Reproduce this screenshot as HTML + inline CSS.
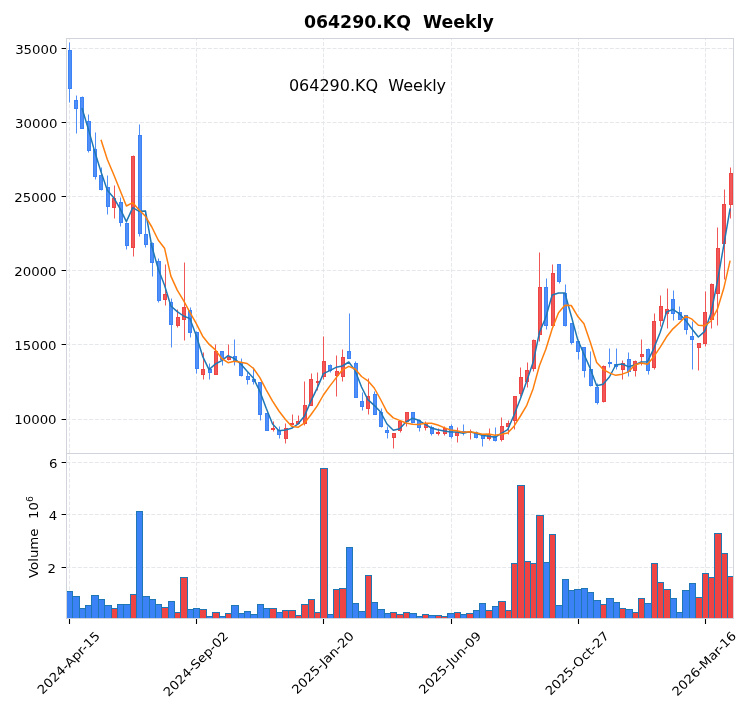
<!DOCTYPE html>
<html><head><meta charset="utf-8"><title>064290.KQ Weekly</title>
<style>html,body{margin:0;padding:0;background:#fff;overflow:hidden}svg{display:block}</style>
</head><body>
<svg width="753" height="712" viewBox="0 0 753 712">
<defs>
<clipPath id="cm"><rect x="66.5" y="38.5" width="667.0" height="415.0"/></clipPath>
<clipPath id="cv"><rect x="66.5" y="453.5" width="667.0" height="164.5"/></clipPath>
</defs>
<rect width="753" height="712" fill="#fff"/>
<path d="M69.5 453.5V38.5M69.5 618.5V453.5M196.5 453.5V38.5M196.5 618.5V453.5M323.5 453.5V38.5M323.5 618.5V453.5M451.5 453.5V38.5M451.5 618.5V453.5M578.5 453.5V38.5M578.5 618.5V453.5M705.5 453.5V38.5M705.5 618.5V453.5M66.5 419.5H733.5M66.5 344.5H733.5M66.5 270.5H733.5M66.5 196.5H733.5M66.5 122.5H733.5M66.5 48.5H733.5M66.5 462.5H733.5M66.5 514.5H733.5M66.5 567.5H733.5" stroke="#e5e7eb" stroke-width="1" stroke-dasharray="3.95 1.71" fill="none"/>
<g clip-path="url(#cm)">
<path d="M69.5 42.5V102.5M76.5 95.5V133.5M82.5 96.5V128.5M88.5 114.5V152.5M95.5 132.5V179.5M101.5 167.5V190.5M107.5 175.5V214.5M120.5 197.5V226.5M126.5 222.5V249.5M139.5 124.5V236.5M145.5 210.5V247.5M152.5 242.5V276.5M158.5 258.5V302.5M171.5 298.5V347.5M190.5 307.5V337.5M196.5 331.5V373.5M209.5 363.5V379.5M222.5 351.5V365.5M234.5 339.5V365.5M241.5 358.5V376.5M247.5 372.5V384.5M253.5 367.5V384.5M260.5 382.5V420.5M266.5 413.5V430.5M279.5 426.5V438.5M330.5 364.5V372.5M349.5 313.5V358.5M355.5 361.5V397.5M362.5 392.5V410.5M374.5 391.5V414.5M381.5 408.5V427.5M387.5 426.5V438.5M412.5 412.5V423.5M419.5 419.5V431.5M431.5 425.5V435.5M451.5 424.5V438.5M463.5 424.5V435.5M476.5 431.5V438.5M482.5 435.5V446.5M495.5 427.5V441.5M546.5 278.5V329.5M559.5 264.5V283.5M565.5 284.5V326.5M571.5 323.5V344.5M578.5 341.5V359.5M584.5 347.5V377.5M590.5 351.5V386.5M597.5 383.5V404.5M609.5 348.5V367.5M616.5 348.5V369.5M628.5 352.5V376.5M648.5 348.5V374.5M673.5 290.5V320.5M679.5 306.5V319.5M686.5 315.5V334.5M692.5 321.5V369.5" stroke="#4f8ff7" stroke-width="1" fill="none"/>
<path d="M114.5 185.5V218.5M133.5 155.5V256.5M165.5 264.5V305.5M177.5 309.5V327.5M184.5 262.5V340.5M203.5 352.5V379.5M215.5 344.5V374.5M228.5 344.5V360.5M273.5 421.5V431.5M285.5 423.5V443.5M292.5 414.5V425.5M298.5 415.5V424.5M304.5 381.5V425.5M311.5 373.5V405.5M317.5 372.5V390.5M323.5 336.5V379.5M336.5 355.5V396.5M342.5 349.5V381.5M368.5 378.5V414.5M393.5 433.5V448.5M400.5 420.5V432.5M406.5 412.5V426.5M425.5 421.5V430.5M438.5 428.5V435.5M444.5 426.5V435.5M457.5 427.5V442.5M470.5 429.5V439.5M489.5 428.5V440.5M501.5 417.5V441.5M508.5 420.5V434.5M514.5 396.5V429.5M520.5 367.5V396.5M527.5 362.5V387.5M533.5 339.5V371.5M539.5 252.5V341.5M552.5 264.5V325.5M603.5 365.5V402.5M622.5 360.5V379.5M635.5 360.5V376.5M641.5 339.5V365.5M654.5 313.5V369.5M660.5 295.5V326.5M667.5 288.5V328.5M698.5 343.5V370.5M705.5 291.5V346.5M711.5 283.5V328.5M717.5 227.5V325.5M724.5 189.5V279.5M730.5 167.5V218.5" stroke="#f15757" stroke-width="1" fill="none"/>
<rect x="68.5" y="50.5" width="3.0" height="38.00" fill="#4f8ff7" stroke="#3b82f6" stroke-width="1"/>
<rect x="74.5" y="100.5" width="3.0" height="8.00" fill="#4f8ff7" stroke="#3b82f6" stroke-width="1"/>
<rect x="80.5" y="97.5" width="3.0" height="31.00" fill="#4f8ff7" stroke="#3b82f6" stroke-width="1"/>
<rect x="87.5" y="121.5" width="3.0" height="29.00" fill="#4f8ff7" stroke="#3b82f6" stroke-width="1"/>
<rect x="93.5" y="149.5" width="3.0" height="27.00" fill="#4f8ff7" stroke="#3b82f6" stroke-width="1"/>
<rect x="99.5" y="175.5" width="3.0" height="14.00" fill="#4f8ff7" stroke="#3b82f6" stroke-width="1"/>
<rect x="106.5" y="187.5" width="3.0" height="19.00" fill="#4f8ff7" stroke="#3b82f6" stroke-width="1"/>
<rect x="112.5" y="198.5" width="3.0" height="9.00" fill="#f15757" stroke="#ef4444" stroke-width="1"/>
<rect x="119.5" y="202.5" width="3.0" height="20.00" fill="#4f8ff7" stroke="#3b82f6" stroke-width="1"/>
<rect x="125.5" y="223.5" width="3.0" height="22.00" fill="#4f8ff7" stroke="#3b82f6" stroke-width="1"/>
<rect x="131.5" y="156.5" width="3.0" height="91.00" fill="#f15757" stroke="#ef4444" stroke-width="1"/>
<rect x="138.5" y="135.5" width="3.0" height="98.00" fill="#4f8ff7" stroke="#3b82f6" stroke-width="1"/>
<rect x="144.5" y="234.5" width="3.0" height="10.00" fill="#4f8ff7" stroke="#3b82f6" stroke-width="1"/>
<rect x="150.5" y="243.5" width="3.0" height="19.00" fill="#4f8ff7" stroke="#3b82f6" stroke-width="1"/>
<rect x="157.5" y="261.5" width="3.0" height="39.00" fill="#4f8ff7" stroke="#3b82f6" stroke-width="1"/>
<rect x="163.5" y="294.5" width="3.0" height="5.00" fill="#f15757" stroke="#ef4444" stroke-width="1"/>
<rect x="169.5" y="302.5" width="3.0" height="22.00" fill="#4f8ff7" stroke="#3b82f6" stroke-width="1"/>
<rect x="176.5" y="317.5" width="3.0" height="8.00" fill="#f15757" stroke="#ef4444" stroke-width="1"/>
<rect x="182.5" y="307.5" width="3.0" height="12.00" fill="#f15757" stroke="#ef4444" stroke-width="1"/>
<rect x="188.5" y="310.5" width="3.0" height="22.00" fill="#4f8ff7" stroke="#3b82f6" stroke-width="1"/>
<rect x="195.5" y="332.5" width="3.0" height="36.00" fill="#4f8ff7" stroke="#3b82f6" stroke-width="1"/>
<rect x="201.5" y="369.5" width="3.0" height="5.00" fill="#f15757" stroke="#ef4444" stroke-width="1"/>
<rect x="208.5" y="369.5" width="3.0" height="3.00" fill="#4f8ff7" stroke="#3b82f6" stroke-width="1"/>
<rect x="214.5" y="351.5" width="3.0" height="23.00" fill="#f15757" stroke="#ef4444" stroke-width="1"/>
<rect x="220.5" y="351.5" width="3.0" height="8.00" fill="#4f8ff7" stroke="#3b82f6" stroke-width="1"/>
<rect x="227.5" y="357.5" width="3.0" height="2.00" fill="#f15757" stroke="#ef4444" stroke-width="1"/>
<rect x="233.5" y="356.5" width="3.0" height="4.00" fill="#4f8ff7" stroke="#3b82f6" stroke-width="1"/>
<rect x="239.5" y="362.5" width="3.0" height="13.00" fill="#4f8ff7" stroke="#3b82f6" stroke-width="1"/>
<rect x="246.5" y="376.5" width="3.0" height="3.00" fill="#4f8ff7" stroke="#3b82f6" stroke-width="1"/>
<rect x="252.5" y="379.5" width="3.0" height="2.00" fill="#4f8ff7" stroke="#3b82f6" stroke-width="1"/>
<rect x="258.5" y="382.5" width="3.0" height="32.00" fill="#4f8ff7" stroke="#3b82f6" stroke-width="1"/>
<rect x="265.5" y="413.5" width="3.0" height="17.00" fill="#4f8ff7" stroke="#3b82f6" stroke-width="1"/>
<rect x="271.5" y="428.5" width="3.0" height="1.00" fill="#f15757" stroke="#ef4444" stroke-width="1"/>
<rect x="277.5" y="430.5" width="3.0" height="4.00" fill="#4f8ff7" stroke="#3b82f6" stroke-width="1"/>
<rect x="284.5" y="428.5" width="3.0" height="10.00" fill="#f15757" stroke="#ef4444" stroke-width="1"/>
<rect x="290.5" y="423.5" width="3.0" height="1.00" fill="#f15757" stroke="#ef4444" stroke-width="1"/>
<rect x="296.5" y="421.5" width="3.0" height="2.00" fill="#f15757" stroke="#ef4444" stroke-width="1"/>
<rect x="303.5" y="405.5" width="3.0" height="18.00" fill="#f15757" stroke="#ef4444" stroke-width="1"/>
<rect x="309.5" y="379.5" width="3.0" height="26.00" fill="#f15757" stroke="#ef4444" stroke-width="1"/>
<rect x="316.5" y="381.5" width="3.0" height="1.00" fill="#f15757" stroke="#ef4444" stroke-width="1"/>
<rect x="322.5" y="361.5" width="3.0" height="15.00" fill="#f15757" stroke="#ef4444" stroke-width="1"/>
<rect x="328.5" y="365.5" width="3.0" height="5.00" fill="#4f8ff7" stroke="#3b82f6" stroke-width="1"/>
<rect x="335.5" y="371.5" width="3.0" height="4.00" fill="#f15757" stroke="#ef4444" stroke-width="1"/>
<rect x="341.5" y="357.5" width="3.0" height="19.00" fill="#f15757" stroke="#ef4444" stroke-width="1"/>
<rect x="347.5" y="351.5" width="3.0" height="7.00" fill="#4f8ff7" stroke="#3b82f6" stroke-width="1"/>
<rect x="354.5" y="363.5" width="3.0" height="34.00" fill="#4f8ff7" stroke="#3b82f6" stroke-width="1"/>
<rect x="360.5" y="401.5" width="3.0" height="5.00" fill="#4f8ff7" stroke="#3b82f6" stroke-width="1"/>
<rect x="366.5" y="396.5" width="3.0" height="12.00" fill="#f15757" stroke="#ef4444" stroke-width="1"/>
<rect x="373.5" y="394.5" width="3.0" height="20.00" fill="#4f8ff7" stroke="#3b82f6" stroke-width="1"/>
<rect x="379.5" y="412.5" width="3.0" height="14.00" fill="#4f8ff7" stroke="#3b82f6" stroke-width="1"/>
<rect x="385.5" y="430.5" width="3.0" height="2.00" fill="#4f8ff7" stroke="#3b82f6" stroke-width="1"/>
<rect x="392.5" y="433.5" width="3.0" height="4.00" fill="#f15757" stroke="#ef4444" stroke-width="1"/>
<rect x="398.5" y="421.5" width="3.0" height="9.00" fill="#f15757" stroke="#ef4444" stroke-width="1"/>
<rect x="405.5" y="412.5" width="3.0" height="9.00" fill="#f15757" stroke="#ef4444" stroke-width="1"/>
<rect x="411.5" y="412.5" width="3.0" height="10.00" fill="#4f8ff7" stroke="#3b82f6" stroke-width="1"/>
<rect x="417.5" y="420.5" width="3.0" height="7.00" fill="#4f8ff7" stroke="#3b82f6" stroke-width="1"/>
<rect x="424.5" y="424.5" width="3.0" height="3.00" fill="#f15757" stroke="#ef4444" stroke-width="1"/>
<rect x="430.5" y="427.5" width="3.0" height="6.00" fill="#4f8ff7" stroke="#3b82f6" stroke-width="1"/>
<rect x="436.5" y="432.5" width="3.0" height="1.00" fill="#f15757" stroke="#ef4444" stroke-width="1"/>
<rect x="443.5" y="428.5" width="3.0" height="5.00" fill="#f15757" stroke="#ef4444" stroke-width="1"/>
<rect x="449.5" y="426.5" width="3.0" height="10.00" fill="#4f8ff7" stroke="#3b82f6" stroke-width="1"/>
<rect x="455.5" y="432.5" width="3.0" height="3.00" fill="#f15757" stroke="#ef4444" stroke-width="1"/>
<rect x="462.5" y="431.5" width="3.0" height="1.00" fill="#4f8ff7" stroke="#3b82f6" stroke-width="1"/>
<rect x="468.5" y="431.5" width="3.0" height="1.00" fill="#f15757" stroke="#ef4444" stroke-width="1"/>
<rect x="474.5" y="432.5" width="3.0" height="5.00" fill="#4f8ff7" stroke="#3b82f6" stroke-width="1"/>
<rect x="481.5" y="435.5" width="3.0" height="3.00" fill="#4f8ff7" stroke="#3b82f6" stroke-width="1"/>
<rect x="487.5" y="434.5" width="3.0" height="4.00" fill="#f15757" stroke="#ef4444" stroke-width="1"/>
<rect x="493.5" y="436.5" width="3.0" height="4.00" fill="#4f8ff7" stroke="#3b82f6" stroke-width="1"/>
<rect x="500.5" y="426.5" width="3.0" height="13.00" fill="#f15757" stroke="#ef4444" stroke-width="1"/>
<rect x="506.5" y="423.5" width="3.0" height="3.00" fill="#f15757" stroke="#ef4444" stroke-width="1"/>
<rect x="513.5" y="396.5" width="3.0" height="24.00" fill="#f15757" stroke="#ef4444" stroke-width="1"/>
<rect x="519.5" y="377.5" width="3.0" height="16.00" fill="#f15757" stroke="#ef4444" stroke-width="1"/>
<rect x="525.5" y="370.5" width="3.0" height="11.00" fill="#f15757" stroke="#ef4444" stroke-width="1"/>
<rect x="532.5" y="340.5" width="3.0" height="28.00" fill="#f15757" stroke="#ef4444" stroke-width="1"/>
<rect x="538.5" y="287.5" width="3.0" height="47.00" fill="#f15757" stroke="#ef4444" stroke-width="1"/>
<rect x="544.5" y="287.5" width="3.0" height="38.00" fill="#4f8ff7" stroke="#3b82f6" stroke-width="1"/>
<rect x="551.5" y="273.5" width="3.0" height="52.00" fill="#f15757" stroke="#ef4444" stroke-width="1"/>
<rect x="557.5" y="264.5" width="3.0" height="17.00" fill="#4f8ff7" stroke="#3b82f6" stroke-width="1"/>
<rect x="563.5" y="293.5" width="3.0" height="32.00" fill="#4f8ff7" stroke="#3b82f6" stroke-width="1"/>
<rect x="570.5" y="323.5" width="3.0" height="19.00" fill="#4f8ff7" stroke="#3b82f6" stroke-width="1"/>
<rect x="576.5" y="341.5" width="3.0" height="10.00" fill="#4f8ff7" stroke="#3b82f6" stroke-width="1"/>
<rect x="582.5" y="347.5" width="3.0" height="23.00" fill="#4f8ff7" stroke="#3b82f6" stroke-width="1"/>
<rect x="589.5" y="369.5" width="3.0" height="16.00" fill="#4f8ff7" stroke="#3b82f6" stroke-width="1"/>
<rect x="595.5" y="387.5" width="3.0" height="15.00" fill="#4f8ff7" stroke="#3b82f6" stroke-width="1"/>
<rect x="602.5" y="366.5" width="3.0" height="35.00" fill="#f15757" stroke="#ef4444" stroke-width="1"/>
<rect x="608.5" y="362.5" width="3.0" height="1.00" fill="#4f8ff7" stroke="#3b82f6" stroke-width="1"/>
<rect x="614.5" y="364.5" width="3.0" height="2.00" fill="#4f8ff7" stroke="#3b82f6" stroke-width="1"/>
<rect x="621.5" y="363.5" width="3.0" height="6.00" fill="#f15757" stroke="#ef4444" stroke-width="1"/>
<rect x="627.5" y="359.5" width="3.0" height="12.00" fill="#4f8ff7" stroke="#3b82f6" stroke-width="1"/>
<rect x="633.5" y="361.5" width="3.0" height="9.00" fill="#f15757" stroke="#ef4444" stroke-width="1"/>
<rect x="640.5" y="354.5" width="3.0" height="2.00" fill="#f15757" stroke="#ef4444" stroke-width="1"/>
<rect x="646.5" y="349.5" width="3.0" height="21.00" fill="#4f8ff7" stroke="#3b82f6" stroke-width="1"/>
<rect x="652.5" y="321.5" width="3.0" height="46.00" fill="#f15757" stroke="#ef4444" stroke-width="1"/>
<rect x="659.5" y="306.5" width="3.0" height="14.00" fill="#f15757" stroke="#ef4444" stroke-width="1"/>
<rect x="665.5" y="309.5" width="3.0" height="4.00" fill="#f15757" stroke="#ef4444" stroke-width="1"/>
<rect x="671.5" y="299.5" width="3.0" height="14.00" fill="#4f8ff7" stroke="#3b82f6" stroke-width="1"/>
<rect x="678.5" y="312.5" width="3.0" height="7.00" fill="#4f8ff7" stroke="#3b82f6" stroke-width="1"/>
<rect x="684.5" y="315.5" width="3.0" height="14.00" fill="#4f8ff7" stroke="#3b82f6" stroke-width="1"/>
<rect x="690.5" y="336.5" width="3.0" height="3.00" fill="#4f8ff7" stroke="#3b82f6" stroke-width="1"/>
<rect x="697.5" y="343.5" width="3.0" height="4.00" fill="#f15757" stroke="#ef4444" stroke-width="1"/>
<rect x="703.5" y="312.5" width="3.0" height="31.00" fill="#f15757" stroke="#ef4444" stroke-width="1"/>
<rect x="710.5" y="284.5" width="3.0" height="35.00" fill="#f15757" stroke="#ef4444" stroke-width="1"/>
<rect x="716.5" y="248.5" width="3.0" height="45.00" fill="#f15757" stroke="#ef4444" stroke-width="1"/>
<rect x="722.5" y="204.5" width="3.0" height="39.00" fill="#f15757" stroke="#ef4444" stroke-width="1"/>
<rect x="729.5" y="173.5" width="3.0" height="31.00" fill="#f15757" stroke="#ef4444" stroke-width="1"/>
<polyline points="81.91,108.00 88.27,128.67 94.62,151.33 100.98,171.67 107.33,190.33 113.69,197.67 120.04,208.67 126.40,221.67 132.75,207.67 139.11,211.33 145.46,211.00 151.81,246.33 158.17,268.67 164.53,285.33 170.88,306.00 177.24,311.67 183.59,316.00 189.94,318.67 196.30,335.67 202.66,356.33 209.01,369.67 215.37,364.00 221.72,360.67 228.07,355.67 234.43,358.67 240.79,364.00 247.14,371.33 253.50,378.33 259.85,391.33 266.21,408.33 272.56,424.00 278.92,430.67 285.27,430.00 291.62,428.33 297.98,424.00 304.34,416.33 310.69,401.67 317.05,388.33 323.40,373.67 329.75,370.67 336.11,367.33 342.47,366.00 348.82,362.00 355.18,370.67 361.53,387.00 367.88,399.67 374.24,405.33 380.60,412.00 386.95,424.00 393.31,430.33 399.66,428.67 406.01,422.00 412.37,418.33 418.73,420.33 425.08,424.33 431.44,428.00 437.79,429.67 444.15,431.00 450.50,432.00 456.86,432.00 463.21,433.33 469.56,431.67 475.92,433.33 482.28,435.33 488.63,436.33 494.99,437.33 501.34,433.33 507.69,429.67 514.05,415.00 520.41,398.67 526.76,381.00 533.12,362.33 539.47,332.33 545.83,317.33 552.18,295.00 558.54,293.00 564.89,293.00 571.25,316.00 577.60,339.33 583.96,354.33 590.31,368.67 596.67,385.67 603.02,384.33 609.38,377.00 615.73,365.00 622.09,364.00 628.44,366.67 634.80,365.00 641.15,362.00 647.51,361.67 653.86,348.33 660.22,332.33 666.57,312.00 672.93,309.33 679.28,313.67 685.64,320.33 691.99,329.00 698.35,337.00 704.70,331.33 711.06,313.00 717.41,281.33 723.77,245.33 730.12,208.33" fill="none" stroke="#1f77b4" stroke-width="1.5" stroke-linejoin="round"/>
<polyline points="100.98,139.83 107.33,159.50 113.69,174.50 120.04,190.17 126.40,206.00 132.75,202.67 139.11,210.00 145.46,216.33 151.81,227.00 158.17,240.00 164.53,248.17 170.88,276.17 177.24,290.17 183.59,300.67 189.94,312.33 196.30,323.67 202.66,336.17 209.01,344.17 215.37,349.83 221.72,358.50 228.07,362.67 234.43,361.33 240.79,362.33 247.14,363.50 253.50,368.50 259.85,377.67 266.21,389.83 272.56,401.17 278.92,411.00 285.27,419.17 291.62,426.17 297.98,427.33 304.34,423.17 310.69,415.00 317.05,406.17 323.40,395.00 329.75,386.17 336.11,377.83 342.47,369.83 348.82,366.33 355.18,369.00 361.53,376.50 367.88,380.83 374.24,388.00 380.60,399.50 386.95,411.83 393.31,417.83 399.66,420.33 406.01,423.00 412.37,424.33 418.73,424.50 425.08,423.17 431.44,423.17 437.79,425.00 444.15,427.67 450.50,430.00 456.86,430.83 463.21,432.17 469.56,431.83 475.92,432.67 482.28,434.33 488.63,434.00 494.99,435.33 501.34,434.33 507.69,433.00 514.05,426.17 520.41,416.00 526.76,405.33 533.12,388.67 539.47,365.50 545.83,349.17 552.18,328.67 558.54,312.67 564.89,305.17 571.25,305.50 577.60,316.17 583.96,323.67 590.31,342.33 596.67,362.50 603.02,369.33 609.38,372.83 615.73,375.33 622.09,374.17 628.44,371.83 634.80,365.00 641.15,363.00 647.51,364.17 653.86,356.67 660.22,347.17 666.57,336.83 672.93,328.83 679.28,323.00 685.64,316.17 691.99,319.17 698.35,325.33 704.70,325.83 711.06,321.00 717.41,309.17 723.77,288.33 730.12,260.67" fill="none" stroke="#ff7f0e" stroke-width="1.5" stroke-linejoin="round"/>
</g>
<g clip-path="url(#cv)">
<rect x="66.5" y="591.5" width="6.0" height="29.0" fill="#3b82f6" stroke="#1f77b4" stroke-width="1"/>
<rect x="72.5" y="596.5" width="7.0" height="24.0" fill="#3b82f6" stroke="#1f77b4" stroke-width="1"/>
<rect x="79.5" y="608.5" width="6.0" height="12.0" fill="#3b82f6" stroke="#1f77b4" stroke-width="1"/>
<rect x="85.5" y="605.5" width="6.0" height="15.0" fill="#3b82f6" stroke="#1f77b4" stroke-width="1"/>
<rect x="91.5" y="595.5" width="7.0" height="25.0" fill="#3b82f6" stroke="#1f77b4" stroke-width="1"/>
<rect x="98.5" y="599.5" width="6.0" height="21.0" fill="#3b82f6" stroke="#1f77b4" stroke-width="1"/>
<rect x="104.5" y="605.5" width="7.0" height="15.0" fill="#3b82f6" stroke="#1f77b4" stroke-width="1"/>
<rect x="111.5" y="608.5" width="6.0" height="12.0" fill="#ef4444" stroke="#1f77b4" stroke-width="1"/>
<rect x="117.5" y="604.5" width="6.0" height="16.0" fill="#3b82f6" stroke="#1f77b4" stroke-width="1"/>
<rect x="123.5" y="604.5" width="7.0" height="16.0" fill="#3b82f6" stroke="#1f77b4" stroke-width="1"/>
<rect x="130.5" y="594.5" width="6.0" height="26.0" fill="#ef4444" stroke="#1f77b4" stroke-width="1"/>
<rect x="136.5" y="511.5" width="6.0" height="109.0" fill="#3b82f6" stroke="#1f77b4" stroke-width="1"/>
<rect x="142.5" y="596.5" width="7.0" height="24.0" fill="#3b82f6" stroke="#1f77b4" stroke-width="1"/>
<rect x="149.5" y="599.5" width="6.0" height="21.0" fill="#3b82f6" stroke="#1f77b4" stroke-width="1"/>
<rect x="155.5" y="604.5" width="6.0" height="16.0" fill="#3b82f6" stroke="#1f77b4" stroke-width="1"/>
<rect x="161.5" y="607.5" width="7.0" height="13.0" fill="#ef4444" stroke="#1f77b4" stroke-width="1"/>
<rect x="168.5" y="601.5" width="6.0" height="19.0" fill="#3b82f6" stroke="#1f77b4" stroke-width="1"/>
<rect x="174.5" y="612.5" width="6.0" height="8.0" fill="#ef4444" stroke="#1f77b4" stroke-width="1"/>
<rect x="180.5" y="577.5" width="7.0" height="43.0" fill="#ef4444" stroke="#1f77b4" stroke-width="1"/>
<rect x="187.5" y="609.5" width="6.0" height="11.0" fill="#3b82f6" stroke="#1f77b4" stroke-width="1"/>
<rect x="193.5" y="608.5" width="6.0" height="12.0" fill="#3b82f6" stroke="#1f77b4" stroke-width="1"/>
<rect x="199.5" y="609.5" width="7.0" height="11.0" fill="#ef4444" stroke="#1f77b4" stroke-width="1"/>
<rect x="206.5" y="616.5" width="6.0" height="4.0" fill="#3b82f6" stroke="#1f77b4" stroke-width="1"/>
<rect x="212.5" y="612.5" width="7.0" height="8.0" fill="#ef4444" stroke="#1f77b4" stroke-width="1"/>
<rect x="219.5" y="616.5" width="6.0" height="4.0" fill="#3b82f6" stroke="#1f77b4" stroke-width="1"/>
<rect x="225.5" y="613.5" width="6.0" height="7.0" fill="#ef4444" stroke="#1f77b4" stroke-width="1"/>
<rect x="231.5" y="605.5" width="7.0" height="15.0" fill="#3b82f6" stroke="#1f77b4" stroke-width="1"/>
<rect x="238.5" y="613.5" width="6.0" height="7.0" fill="#3b82f6" stroke="#1f77b4" stroke-width="1"/>
<rect x="244.5" y="611.5" width="6.0" height="9.0" fill="#3b82f6" stroke="#1f77b4" stroke-width="1"/>
<rect x="250.5" y="614.5" width="7.0" height="6.0" fill="#3b82f6" stroke="#1f77b4" stroke-width="1"/>
<rect x="257.5" y="604.5" width="6.0" height="16.0" fill="#3b82f6" stroke="#1f77b4" stroke-width="1"/>
<rect x="263.5" y="608.5" width="6.0" height="12.0" fill="#3b82f6" stroke="#1f77b4" stroke-width="1"/>
<rect x="269.5" y="608.5" width="7.0" height="12.0" fill="#ef4444" stroke="#1f77b4" stroke-width="1"/>
<rect x="276.5" y="612.5" width="6.0" height="8.0" fill="#3b82f6" stroke="#1f77b4" stroke-width="1"/>
<rect x="282.5" y="610.5" width="6.0" height="10.0" fill="#ef4444" stroke="#1f77b4" stroke-width="1"/>
<rect x="288.5" y="610.5" width="7.0" height="10.0" fill="#ef4444" stroke="#1f77b4" stroke-width="1"/>
<rect x="295.5" y="615.5" width="6.0" height="5.0" fill="#ef4444" stroke="#1f77b4" stroke-width="1"/>
<rect x="301.5" y="604.5" width="7.0" height="16.0" fill="#ef4444" stroke="#1f77b4" stroke-width="1"/>
<rect x="308.5" y="599.5" width="6.0" height="21.0" fill="#ef4444" stroke="#1f77b4" stroke-width="1"/>
<rect x="314.5" y="612.5" width="6.0" height="8.0" fill="#ef4444" stroke="#1f77b4" stroke-width="1"/>
<rect x="320.5" y="468.5" width="7.0" height="152.0" fill="#ef4444" stroke="#1f77b4" stroke-width="1"/>
<rect x="327.5" y="614.5" width="6.0" height="6.0" fill="#3b82f6" stroke="#1f77b4" stroke-width="1"/>
<rect x="333.5" y="589.5" width="6.0" height="31.0" fill="#ef4444" stroke="#1f77b4" stroke-width="1"/>
<rect x="339.5" y="588.5" width="7.0" height="32.0" fill="#ef4444" stroke="#1f77b4" stroke-width="1"/>
<rect x="346.5" y="547.5" width="6.0" height="73.0" fill="#3b82f6" stroke="#1f77b4" stroke-width="1"/>
<rect x="352.5" y="603.5" width="6.0" height="17.0" fill="#3b82f6" stroke="#1f77b4" stroke-width="1"/>
<rect x="358.5" y="611.5" width="7.0" height="9.0" fill="#3b82f6" stroke="#1f77b4" stroke-width="1"/>
<rect x="365.5" y="575.5" width="6.0" height="45.0" fill="#ef4444" stroke="#1f77b4" stroke-width="1"/>
<rect x="371.5" y="602.5" width="6.0" height="18.0" fill="#3b82f6" stroke="#1f77b4" stroke-width="1"/>
<rect x="377.5" y="609.5" width="7.0" height="11.0" fill="#3b82f6" stroke="#1f77b4" stroke-width="1"/>
<rect x="384.5" y="613.5" width="6.0" height="7.0" fill="#3b82f6" stroke="#1f77b4" stroke-width="1"/>
<rect x="390.5" y="612.5" width="6.0" height="8.0" fill="#ef4444" stroke="#1f77b4" stroke-width="1"/>
<rect x="396.5" y="614.5" width="7.0" height="6.0" fill="#ef4444" stroke="#1f77b4" stroke-width="1"/>
<rect x="403.5" y="612.5" width="6.0" height="8.0" fill="#ef4444" stroke="#1f77b4" stroke-width="1"/>
<rect x="409.5" y="613.5" width="7.0" height="7.0" fill="#3b82f6" stroke="#1f77b4" stroke-width="1"/>
<rect x="416.5" y="616.5" width="6.0" height="4.0" fill="#3b82f6" stroke="#1f77b4" stroke-width="1"/>
<rect x="422.5" y="614.5" width="6.0" height="6.0" fill="#ef4444" stroke="#1f77b4" stroke-width="1"/>
<rect x="428.5" y="615.5" width="7.0" height="5.0" fill="#3b82f6" stroke="#1f77b4" stroke-width="1"/>
<rect x="435.5" y="615.5" width="6.0" height="5.0" fill="#ef4444" stroke="#1f77b4" stroke-width="1"/>
<rect x="441.5" y="616.5" width="6.0" height="4.0" fill="#ef4444" stroke="#1f77b4" stroke-width="1"/>
<rect x="447.5" y="613.5" width="7.0" height="7.0" fill="#3b82f6" stroke="#1f77b4" stroke-width="1"/>
<rect x="454.5" y="612.5" width="6.0" height="8.0" fill="#ef4444" stroke="#1f77b4" stroke-width="1"/>
<rect x="460.5" y="614.5" width="6.0" height="6.0" fill="#3b82f6" stroke="#1f77b4" stroke-width="1"/>
<rect x="466.5" y="613.5" width="7.0" height="7.0" fill="#ef4444" stroke="#1f77b4" stroke-width="1"/>
<rect x="473.5" y="610.5" width="6.0" height="10.0" fill="#3b82f6" stroke="#1f77b4" stroke-width="1"/>
<rect x="479.5" y="603.5" width="6.0" height="17.0" fill="#3b82f6" stroke="#1f77b4" stroke-width="1"/>
<rect x="485.5" y="610.5" width="7.0" height="10.0" fill="#ef4444" stroke="#1f77b4" stroke-width="1"/>
<rect x="492.5" y="606.5" width="6.0" height="14.0" fill="#3b82f6" stroke="#1f77b4" stroke-width="1"/>
<rect x="498.5" y="601.5" width="7.0" height="19.0" fill="#ef4444" stroke="#1f77b4" stroke-width="1"/>
<rect x="505.5" y="610.5" width="6.0" height="10.0" fill="#ef4444" stroke="#1f77b4" stroke-width="1"/>
<rect x="511.5" y="563.5" width="6.0" height="57.0" fill="#ef4444" stroke="#1f77b4" stroke-width="1"/>
<rect x="517.5" y="485.5" width="7.0" height="135.0" fill="#ef4444" stroke="#1f77b4" stroke-width="1"/>
<rect x="524.5" y="561.5" width="6.0" height="59.0" fill="#ef4444" stroke="#1f77b4" stroke-width="1"/>
<rect x="530.5" y="563.5" width="6.0" height="57.0" fill="#ef4444" stroke="#1f77b4" stroke-width="1"/>
<rect x="536.5" y="515.5" width="7.0" height="105.0" fill="#ef4444" stroke="#1f77b4" stroke-width="1"/>
<rect x="543.5" y="562.5" width="6.0" height="58.0" fill="#3b82f6" stroke="#1f77b4" stroke-width="1"/>
<rect x="549.5" y="534.5" width="6.0" height="86.0" fill="#ef4444" stroke="#1f77b4" stroke-width="1"/>
<rect x="555.5" y="605.5" width="7.0" height="15.0" fill="#3b82f6" stroke="#1f77b4" stroke-width="1"/>
<rect x="562.5" y="579.5" width="6.0" height="41.0" fill="#3b82f6" stroke="#1f77b4" stroke-width="1"/>
<rect x="568.5" y="590.5" width="6.0" height="30.0" fill="#3b82f6" stroke="#1f77b4" stroke-width="1"/>
<rect x="574.5" y="589.5" width="7.0" height="31.0" fill="#3b82f6" stroke="#1f77b4" stroke-width="1"/>
<rect x="581.5" y="588.5" width="6.0" height="32.0" fill="#3b82f6" stroke="#1f77b4" stroke-width="1"/>
<rect x="587.5" y="592.5" width="6.0" height="28.0" fill="#3b82f6" stroke="#1f77b4" stroke-width="1"/>
<rect x="593.5" y="600.5" width="7.0" height="20.0" fill="#3b82f6" stroke="#1f77b4" stroke-width="1"/>
<rect x="600.5" y="604.5" width="6.0" height="16.0" fill="#ef4444" stroke="#1f77b4" stroke-width="1"/>
<rect x="606.5" y="598.5" width="7.0" height="22.0" fill="#3b82f6" stroke="#1f77b4" stroke-width="1"/>
<rect x="613.5" y="602.5" width="6.0" height="18.0" fill="#3b82f6" stroke="#1f77b4" stroke-width="1"/>
<rect x="619.5" y="608.5" width="6.0" height="12.0" fill="#ef4444" stroke="#1f77b4" stroke-width="1"/>
<rect x="625.5" y="609.5" width="7.0" height="11.0" fill="#3b82f6" stroke="#1f77b4" stroke-width="1"/>
<rect x="632.5" y="612.5" width="6.0" height="8.0" fill="#ef4444" stroke="#1f77b4" stroke-width="1"/>
<rect x="638.5" y="598.5" width="6.0" height="22.0" fill="#ef4444" stroke="#1f77b4" stroke-width="1"/>
<rect x="644.5" y="603.5" width="7.0" height="17.0" fill="#3b82f6" stroke="#1f77b4" stroke-width="1"/>
<rect x="651.5" y="563.5" width="6.0" height="57.0" fill="#ef4444" stroke="#1f77b4" stroke-width="1"/>
<rect x="657.5" y="582.5" width="6.0" height="38.0" fill="#ef4444" stroke="#1f77b4" stroke-width="1"/>
<rect x="663.5" y="589.5" width="7.0" height="31.0" fill="#ef4444" stroke="#1f77b4" stroke-width="1"/>
<rect x="670.5" y="598.5" width="6.0" height="22.0" fill="#3b82f6" stroke="#1f77b4" stroke-width="1"/>
<rect x="676.5" y="612.5" width="6.0" height="8.0" fill="#3b82f6" stroke="#1f77b4" stroke-width="1"/>
<rect x="682.5" y="590.5" width="7.0" height="30.0" fill="#3b82f6" stroke="#1f77b4" stroke-width="1"/>
<rect x="689.5" y="583.5" width="6.0" height="37.0" fill="#3b82f6" stroke="#1f77b4" stroke-width="1"/>
<rect x="695.5" y="597.5" width="7.0" height="23.0" fill="#ef4444" stroke="#1f77b4" stroke-width="1"/>
<rect x="702.5" y="573.5" width="6.0" height="47.0" fill="#ef4444" stroke="#1f77b4" stroke-width="1"/>
<rect x="708.5" y="577.5" width="6.0" height="43.0" fill="#ef4444" stroke="#1f77b4" stroke-width="1"/>
<rect x="714.5" y="533.5" width="7.0" height="87.0" fill="#ef4444" stroke="#1f77b4" stroke-width="1"/>
<rect x="721.5" y="553.5" width="6.0" height="67.0" fill="#ef4444" stroke="#1f77b4" stroke-width="1"/>
<rect x="727.5" y="576.5" width="6.0" height="44.0" fill="#ef4444" stroke="#1f77b4" stroke-width="1"/>
</g>
<rect x="66.5" y="38.5" width="667.0" height="415.0" fill="none" stroke="#d1d5db" stroke-width="1"/>
<rect x="66.5" y="453.5" width="667.0" height="165.0" fill="none" stroke="#d1d5db" stroke-width="1"/>
<path d="M61.60 419.5H66.0M61.60 344.5H66.0M61.60 270.5H66.0M61.60 196.5H66.0M61.60 122.5H66.0M61.60 48.5H66.0M61.60 462.5H66.0M61.60 514.5H66.0M61.60 567.5H66.0M69.5 619.0V623.9M196.5 619.0V623.9M323.5 619.0V623.9M451.5 619.0V623.9M578.5 619.0V623.9M705.5 619.0V623.9" stroke="#000" stroke-width="1.1" fill="none"/>
<g opacity="0.999">
<g font-family="'DejaVu Sans', 'Liberation Sans', sans-serif" font-size="13.33" fill="#000" text-anchor="end">
<text transform="translate(57.5,53.8) scale(1,0.925)">35000</text>
<text transform="translate(57.4,127.6) scale(1,0.925)">30000</text>
<text transform="translate(56.6,201.7) scale(1,0.925)">25000</text>
<text transform="translate(56.6,275.7) scale(1,0.925)">20000</text>
<text transform="translate(56.6,349.7) scale(1,0.925)">15000</text>
<text transform="translate(56.6,423.9) scale(1,0.925)">10000</text>
<text transform="translate(57.4,467.7) scale(1,0.925)">6</text>
<text transform="translate(57.2,519.7) scale(1,0.925)">4</text>
<text transform="translate(55.9,572.9) scale(1,0.925)">2</text>
</g>
<g font-family="'DejaVu Sans', 'Liberation Sans', sans-serif" font-size="13.33" fill="#000" text-anchor="middle">
<text transform="translate(68.40,662.70) rotate(-45) translate(0,4.6) scale(1,0.925)">2024-Apr-15</text>
<text transform="translate(195.50,663.83) rotate(-45) translate(0,4.6) scale(1,0.925)">2024-Sep-02</text>
<text transform="translate(322.60,662.48) rotate(-45) translate(0,4.6) scale(1,0.925)">2025-Jan-20</text>
<text transform="translate(449.70,662.58) rotate(-45) translate(0,4.6) scale(1,0.925)">2025-Jun-09</text>
<text transform="translate(576.80,663.23) rotate(-45) translate(0,4.6) scale(1,0.925)">2025-Oct-27</text>
<text transform="translate(703.90,663.54) rotate(-45) translate(0,4.6) scale(1,0.925)">2026-Mar-16</text>
</g>
<text x="398.9" y="28.3" font-family="'DejaVu Sans', 'Liberation Sans', sans-serif" font-size="17.33" font-weight="bold" text-anchor="middle">064290.KQ&#160; Weekly</text>
<text x="288.9" y="90.9" font-family="'DejaVu Sans', 'Liberation Sans', sans-serif" font-size="16">064290.KQ&#160; Weekly</text>
<text transform="translate(37.9,578.0) rotate(-90) scale(1,0.925)" font-family="'DejaVu Sans', 'Liberation Sans', sans-serif" font-size="13.33">Volume&#160; <tspan dx="1.1">10</tspan><tspan font-size="9.33" dy="-5.1">6</tspan></text>
</g>
</svg>
</body></html>
